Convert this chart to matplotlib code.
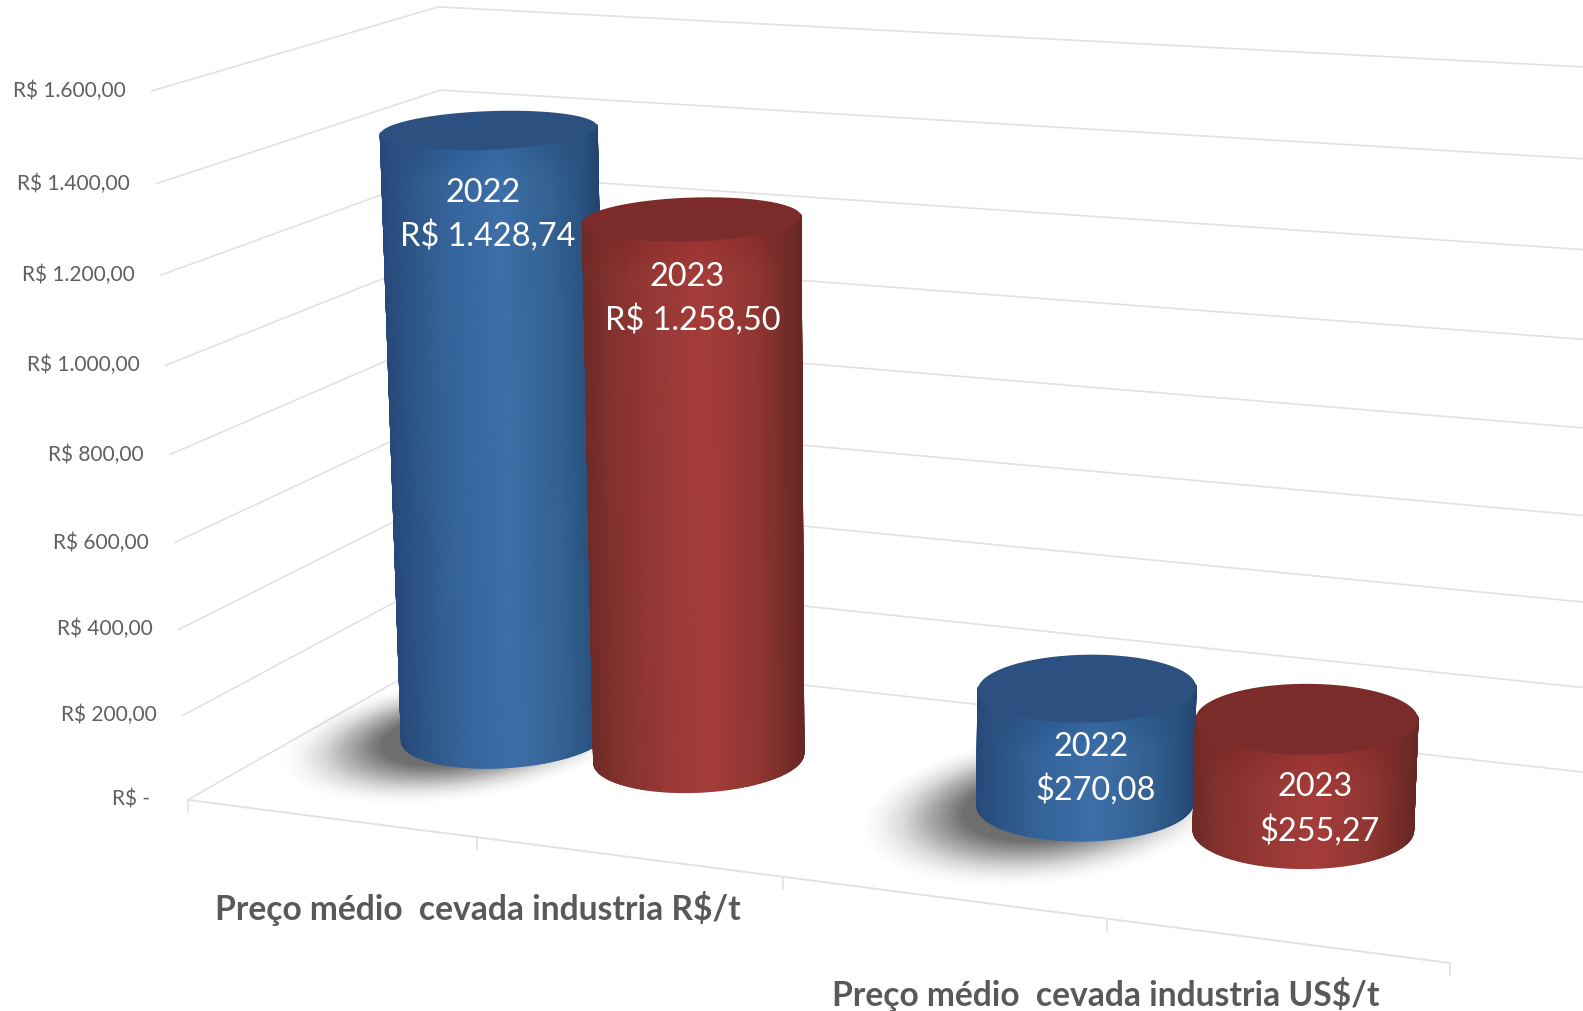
import numpy as np
import matplotlib
matplotlib.use("Agg")
import matplotlib.pyplot as plt
from matplotlib.colors import LinearSegmentedColormap

plt.rcParams['font.family'] = ['Lato', 'DejaVu Sans']

# chart values
categories = ["Preço médio  cevada industria R$/t", "Preço médio  cevada industria US$/t"]
years = ["2022", "2023", "2022", "2023"]
values = [1428.74, 1258.50, 270.08, 255.27]
value_labels = ["R$ 1.428,74", "R$ 1.258,50", "$270,08", "$255,27"]
axis_values = [0, 200, 400, 600, 800, 1000, 1200, 1400, 1600]
axis_labels = ["R$ -", "R$ 200,00", "R$ 400,00", "R$ 600,00", "R$ 800,00",
               "R$ 1.000,00", "R$ 1.200,00", "R$ 1.400,00", "R$ 1.600,00"]

# camera fit: (x along floor 0-2, depth 0-1, value) -> position in the picture
floor_marks = [
    (0, 0, 0, 187, 795), (0.5, 0, 0, 473, 830), (1, 0, 0, 773, 870),
    (1.5, 0, 0, 1095, 912), (2, 0, 0, 1436, 955),
]
wall_marks = [
    (0, 0, 1600, 150, 88), (0, 0, 1400, 157, 178), (0, 0, 1200, 160, 270),
    (0, 0, 1000, 164, 360), (0, 0, 800, 170, 449), (0, 0, 600, 173, 537),
    (0, 0, 400, 179, 623), (0, 0, 200, 184, 708),
    (0, 1, 1600, 432, 10), (0, 1, 1400, 432, 91), (0, 1, 0, 453, 645),
    (2, 1, 1600, 1629, 82), (2, 1, 800, 1610, 425), (2, 1, 0, 1593, 752),
]

rows = []
rhs = []
for wx, wz, wv, px, py in floor_marks * 4 + wall_marks:
    rows.append([wx, wz, wv, 1, 0, 0, 0, 0, -px * wx, -px * wz, -px * wv])
    rows.append([0, 0, 0, 0, wx, wz, wv, 1, -py * wx, -py * wz, -py * wv])
    rhs += [px, py]
h = np.linalg.lstsq(np.array(rows, float), np.array(rhs, float), rcond=None)[0]


def project(x, z, v):
    x, z, v = np.asarray(x, float), np.asarray(z, float), np.asarray(v, float)
    w = h[8] * x + h[9] * z + h[10] * v + 1
    return ((h[0] * x + h[1] * z + h[2] * v + h[3]) / w,
            (h[4] * x + h[5] * z + h[6] * v + h[7]) / w)


blue_cmap = LinearSegmentedColormap.from_list("b", [
    (0, "#27497a"), (0.12, "#2d5686"), (0.3, "#35649b"), (0.55, "#3e6fa8"),
    (0.8, "#32608f"), (0.93, "#2a5280"), (1, "#244571")])
red_cmap = LinearSegmentedColormap.from_list("r", [
    (0, "#702b28"), (0.12, "#82312e"), (0.3, "#953835"), (0.55, "#a53d39"),
    (0.8, "#8f3532"), (0.93, "#752c29"), (1, "#672724")])
top_colors = ["#2c5180", "#7b2b29", "#2c5180", "#7b2b29"]
cmaps = [blue_cmap, red_cmap, blue_cmap, red_cmap]

# layout of the four cylinders on the floor
centres_x = [0.306, 0.648, 1.296, 1.643]
centre_z = 0.53
radius_x = 0.163
radius_z = 0.20
label_pos = [(478, 191, 483, 233), (681, 274, 686, 316),
             (1081, 740, 1085, 782), (1303, 779, 1307, 822)]

fig = plt.figure(figsize=(15.83, 10.12), dpi=100)
ax = fig.add_axes([0, 0, 1, 1])
ax.set_xlim(0, 1568)
ax.set_ylim(1002, 0)
ax.axis("off")

grid_color = "#e2e2e2"

# walls
for v in axis_values:
    xs, ys = project([0, 0, 2], [0, 1, 1], [v, v, v])
    ax.plot(xs, ys, color=grid_color, lw=1.2, zorder=1)

# floor front edge and ticks
xs, ys = project([0, 2], [0, 0], [0, 0])
ax.plot(xs, ys, color=grid_color, lw=1.4, zorder=1)
for t in [0, 0.5, 1, 1.5, 2]:
    tx, ty = project(t, 0, 0)
    ax.plot([tx, tx], [ty, ty + 12], color=grid_color, lw=1.2, zorder=1)

# axis labels
for v, lab in zip(axis_values, axis_labels):
    tx, ty = project(0, 0, v)
    off = 37 if v == 0 else 26
    ax.text(tx - off, ty - 1, lab, ha="right", va="center", fontsize=15, color="#5f5f5f")

# shadows, soft towards the outside
t = np.linspace(0, 2 * np.pi, 120)
for cx, rz in [(0.245, 0.31), (1.245, 0.33)]:
    for s in np.linspace(1.3, 0.6, 60):
        a = 0.003 + 0.017 * (1.3 - s) / 0.7
        sx, sy = project(cx + 0.2 * s * np.cos(t), 0.50 + rz * s * np.sin(t), 0 * t)
        ax.fill(sx, sy, color="black", alpha=a, lw=0, zorder=2)

# cylinders
theta = np.linspace(0, 2 * np.pi, 241)
for i, val in enumerate(values):
    wx = centres_x[i] + radius_x * np.cos(theta)
    wz = centre_z + radius_z * np.sin(theta)
    bx, by = project(wx, wz, 0 * theta)
    tx, ty = project(wx, wz, 0 * theta + val)

    # near half only, between the two silhouette points, running left to right
    j_left = np.argmin(bx)
    j_right = np.argmax(bx)
    a, b = sorted([j_left, j_right])
    idx = np.arange(a, b + 1)
    if by[idx].mean() < np.delete(by, idx).mean():
        idx = np.arange(b, 240 + a + 1)
    # a little past the silhouette so the top edge has no notch
    idx = np.arange(idx[0] - 4, idx[-1] + 5) % 240
    if bx[idx[4]] > bx[idx[-5]]:
        idx = idx[::-1]

    qx = np.column_stack([bx[idx], tx[idx]])
    qy = np.column_stack([by[idx], ty[idx]])
    u = (qx - qx.min(axis=0)) / (qx.max(axis=0) - qx.min(axis=0))
    ax.pcolormesh(qx, qy, u, cmap=cmaps[i], vmin=0, vmax=1, shading="gouraud",
                  zorder=3 + i)

    # darker band under the top face
    for k in np.linspace(0, 1, 8):
        band = min(val * 0.3, 70) * (1 - k) + 3
        lo_x, lo_y = project(wx[idx], wz[idx], 0 * theta[idx] + val - band)
        ax.fill(np.r_[lo_x, tx[idx][::-1]], np.r_[lo_y, ty[idx][::-1]],
                color=top_colors[i], alpha=0.025, lw=0, zorder=3 + i)

    # top face
    ax.fill(tx, ty, color=top_colors[i], lw=0, zorder=3 + i)

    lx1, ly1, lx2, ly2 = label_pos[i]
    ax.text(lx1, ly1, years[i], ha="center", va="center", fontsize=23.4,
            color="white", zorder=10)
    ax.text(lx2, ly2, value_labels[i], ha="center", va="center", fontsize=23.4,
            color="white", zorder=10)

# category names
ax.text(473, 900, categories[0], ha="center", va="center", fontsize=24.2,
        fontweight="bold", color="#595959")
ax.text(1095, 985, categories[1], ha="center", va="center", fontsize=24.2,
        fontweight="bold", color="#595959")

fig.savefig("out.png", dpi=100)
